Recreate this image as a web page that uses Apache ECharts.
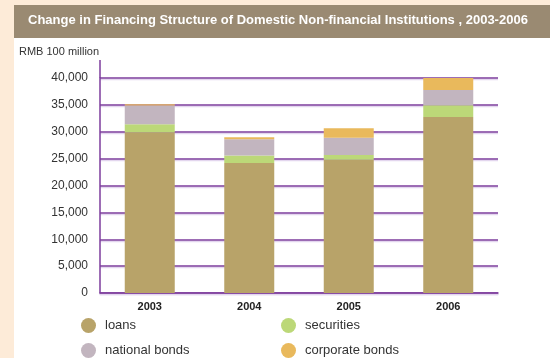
<!DOCTYPE html>
<html>
<head>
<meta charset="utf-8">
<script src="https://cdn.jsdelivr.net/npm/echarts@6/dist/echarts.min.js"></script>
<style>
  html, body { margin: 0; padding: 0; background: #fdebd8; }
  #chart { width: 550px; height: 358px; }
</style>
</head>
<body>
<div id="chart"></div>
<script>
// Financing of domestic non-financial institutions, RMB 100 million
var years = ['2003', '2004', '2005', '2006'];
var loans = [29900, 24200, 24800, 32750];
var securities = [1500, 1400, 870, 2170];
var nationalBonds = [3500, 3000, 3200, 2840];
var corporateBonds = [200, 370, 1800, 2300];

var yTicks = { min: 0, max: 40000, step: 5000 };

var purple = '#7d3c9c';
var lavender = '#e3d6ee';
var condensed = '"Liberation Sans Narrow", "Liberation Sans", Arial, sans-serif';

var chart = echarts.init(document.getElementById('chart'));

function stackSeries(name, data, color) {
  return {
    name: name,
    type: 'bar',
    stack: 'total',
    barWidth: 50,
    data: data,
    itemStyle: { color: color },
    emphasis: { disabled: true }
  };
}

// one legend entry per block so the two columns line up
function legendItem(name, left, top) {
  return {
    left: left, top: top, padding: 0, itemWidth: 15, itemHeight: 15,
    icon: 'circle', selectedMode: false,
    data: [name],
    textStyle: { color: '#333333', fontSize: 13, fontFamily: condensed, padding: [0, 0, 0, 4] }
  };
}

chart.setOption({
  animation: false,
  backgroundColor: '#fdebd8',
  graphic: [
    { type: 'rect', shape: { x: 14, y: 38, width: 536, height: 320 }, style: { fill: '#ffffff' }, z: -10 },
    { type: 'rect', shape: { x: 14, y: 5, width: 536, height: 33 }, style: { fill: '#9a8a72' }, z: -10 },
    {
      type: 'text', left: 28, top: 14,
      style: {
        text: 'Change in Financing Structure of Domestic Non-financial Institutions , 2003-2006',
        fill: '#ffffff', font: 'bold 13px ' + condensed
      }
    },
    {
      type: 'text', left: 19, top: 46,
      style: { text: 'RMB 100 million', fill: '#333333', font: '11px "Liberation Sans", Arial, sans-serif' }
    },
    // upward extension of the value axis line
    { type: 'line', shape: { x1: 100, y1: 60, x2: 100, y2: 78 }, style: { stroke: purple, lineWidth: 1.5 }, z: 5 }
  ],
  grid: { left: 100, right: 52, top: 78, bottom: 65 },
  xAxis: {
    type: 'category',
    data: years,
    axisLine: { lineStyle: { color: purple, width: 1.5, shadowColor: lavender, shadowOffsetY: 1.5 } },
    axisTick: { show: false },
    axisLabel: { color: '#222222', fontWeight: 'bold', fontSize: 11, margin: 8, fontFamily: '"Liberation Sans", Arial, sans-serif' }
  },
  yAxis: {
    type: 'value',
    min: yTicks.min,
    max: yTicks.max,
    interval: yTicks.step,
    axisLine: { show: true, lineStyle: { color: purple, width: 1.5 } },
    axisTick: { show: false },
    splitLine: { lineStyle: { color: purple, width: 1.5, shadowColor: lavender, shadowOffsetY: 1.5 } },
    axisLabel: {
      color: '#333333', fontSize: 12, margin: 12,
      fontFamily: '"Liberation Sans", Arial, sans-serif',
      formatter: function (v) { return v.toLocaleString('en-US'); }
    }
  },
  legend: [
    legendItem('loans', 81, 318),
    legendItem('national bonds', 81, 343),
    legendItem('securities', 281, 318),
    legendItem('corporate bonds', 281, 343)
  ],
  series: [
    stackSeries('loans', loans, '#b8a369'),
    stackSeries('securities', securities, '#bcd878'),
    stackSeries('national bonds', nationalBonds, '#c2b5bf'),
    stackSeries('corporate bonds', corporateBonds, '#e9b95c')
  ]
});
</script>
</body>
</html>
